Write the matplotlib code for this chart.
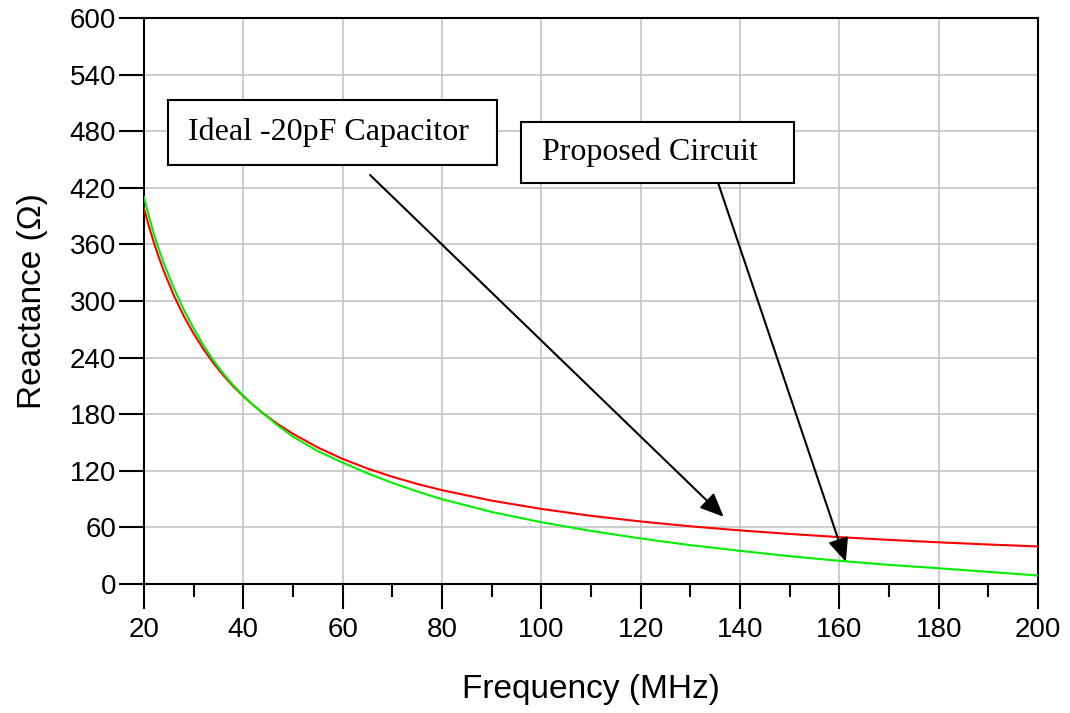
import matplotlib
matplotlib.use("Agg")
import matplotlib.pyplot as plt
from matplotlib.patches import Rectangle
from matplotlib.ticker import MultipleLocator

# Data
freq_mhz = [20, 21, 22, 23, 24, 26, 28, 30, 32, 34, 36, 38, 40, 42, 44, 47,
            50, 55, 60, 65, 70, 75, 80, 90, 100, 110, 120, 130, 140, 150,
            160, 170, 180, 190, 200]
ideal_cap = [398, 379, 361.7, 346, 331.6, 306, 284.2, 265.3, 248.7, 234,
             221, 209.4, 199, 189.5, 180.9, 169.3, 159.2, 144.7, 132.6,
             122.4, 113.7, 106.1, 99.5, 88.4, 79.6, 72.3, 66.3, 61.2, 56.8,
             53.1, 49.7, 46.8, 44.2, 41.9, 39.8]
proposed = [410, 389.5, 370.7, 354.6, 339.9, 313.7, 291, 270.9, 252.8, 236.9,
            222.9, 210.6, 199.6, 189.7, 180.9, 167.8, 156.2, 140.9, 128.6,
            117.4, 107.2, 98.1, 89.9, 76.4, 65.5, 56.3, 48.3, 41.2, 35.2,
            29.5, 24.6, 20.3, 16.7, 12.9, 9.0]

x_ticks = [20, 40, 60, 80, 100, 120, 140, 160, 180, 200]
y_ticks = [0, 60, 120, 180, 240, 300, 360, 420, 480, 540, 600]

label_ideal = "Ideal -20pF Capacitor"
label_prop = "Proposed Circuit"
x_label = "Frequency (MHz)"
y_label = "Reactance (\u03a9)"

fig = plt.figure(figsize=(10.7, 7.13), dpi=100)
ax = fig.add_axes([0.1346, 0.1809, 0.8355, 0.7939])

ax.plot(freq_mhz, ideal_cap, color="#ff0000", lw=1.5, zorder=3)
ax.plot(freq_mhz, proposed, color="#00f000", lw=1.5, zorder=3)

ax.set_xlim(20, 200)
ax.set_ylim(0, 600)
ax.set_xticks(x_ticks)
ax.set_yticks(y_ticks)
ax.xaxis.set_minor_locator(MultipleLocator(10))
ax.grid(True, which="major", color="#c4c4c4", lw=1.2, zorder=0)

sans = ["Liberation Sans", "DejaVu Sans"]
for lab in ax.get_xticklabels() + ax.get_yticklabels():
    lab.set_fontfamily(sans)
    lab.set_fontsize(20)
ax.tick_params(axis="x", which="major", direction="out", length=18, width=1.5, pad=6)
ax.tick_params(axis="x", which="minor", direction="out", length=9, width=1.5)
ax.tick_params(axis="y", which="major", direction="out", length=18, width=1.5, pad=2)
for sp in ax.spines.values():
    sp.set_linewidth(1.5)
    sp.set_color("black")

ax.set_xlabel(x_label, fontsize=24, family=sans, labelpad=22)
ax.set_ylabel(y_label, fontsize=24, family=sans, labelpad=16)

serif = ["Liberation Serif", "DejaVu Serif"]
# annotation boxes (axes fraction)
ax.add_patch(Rectangle((0.0268, 0.7403), 0.3681, 0.1148, transform=ax.transAxes,
                       facecolor="white", edgecolor="black", lw=1.5, zorder=5))
ax.text(0.2058, 0.7977, label_ideal, transform=ax.transAxes, ha="center",
        va="center", fontsize=23, family=serif, zorder=6)
ax.add_patch(Rectangle((0.4217, 0.7085), 0.3054, 0.1078, transform=ax.transAxes,
                       facecolor="white", edgecolor="black", lw=1.5, zorder=5))
ax.text(0.5654, 0.7624, label_prop, transform=ax.transAxes, ha="center",
        va="center", fontsize=23, family=serif, zorder=6)

arrow_kw = dict(arrowstyle="-|>,head_length=0.8,head_width=0.35", color="black",
                lw=1.5, shrinkA=0, shrinkB=0, mutation_scale=18)
ax.annotate("", xy=(136.7, 71.3), xytext=(65.5, 433.6), arrowprops=arrow_kw, zorder=7)
ax.annotate("", xy=(161.3, 23.6), xytext=(135.6, 425.0), arrowprops=arrow_kw, zorder=7)

fig.savefig("out.png", dpi=100)
